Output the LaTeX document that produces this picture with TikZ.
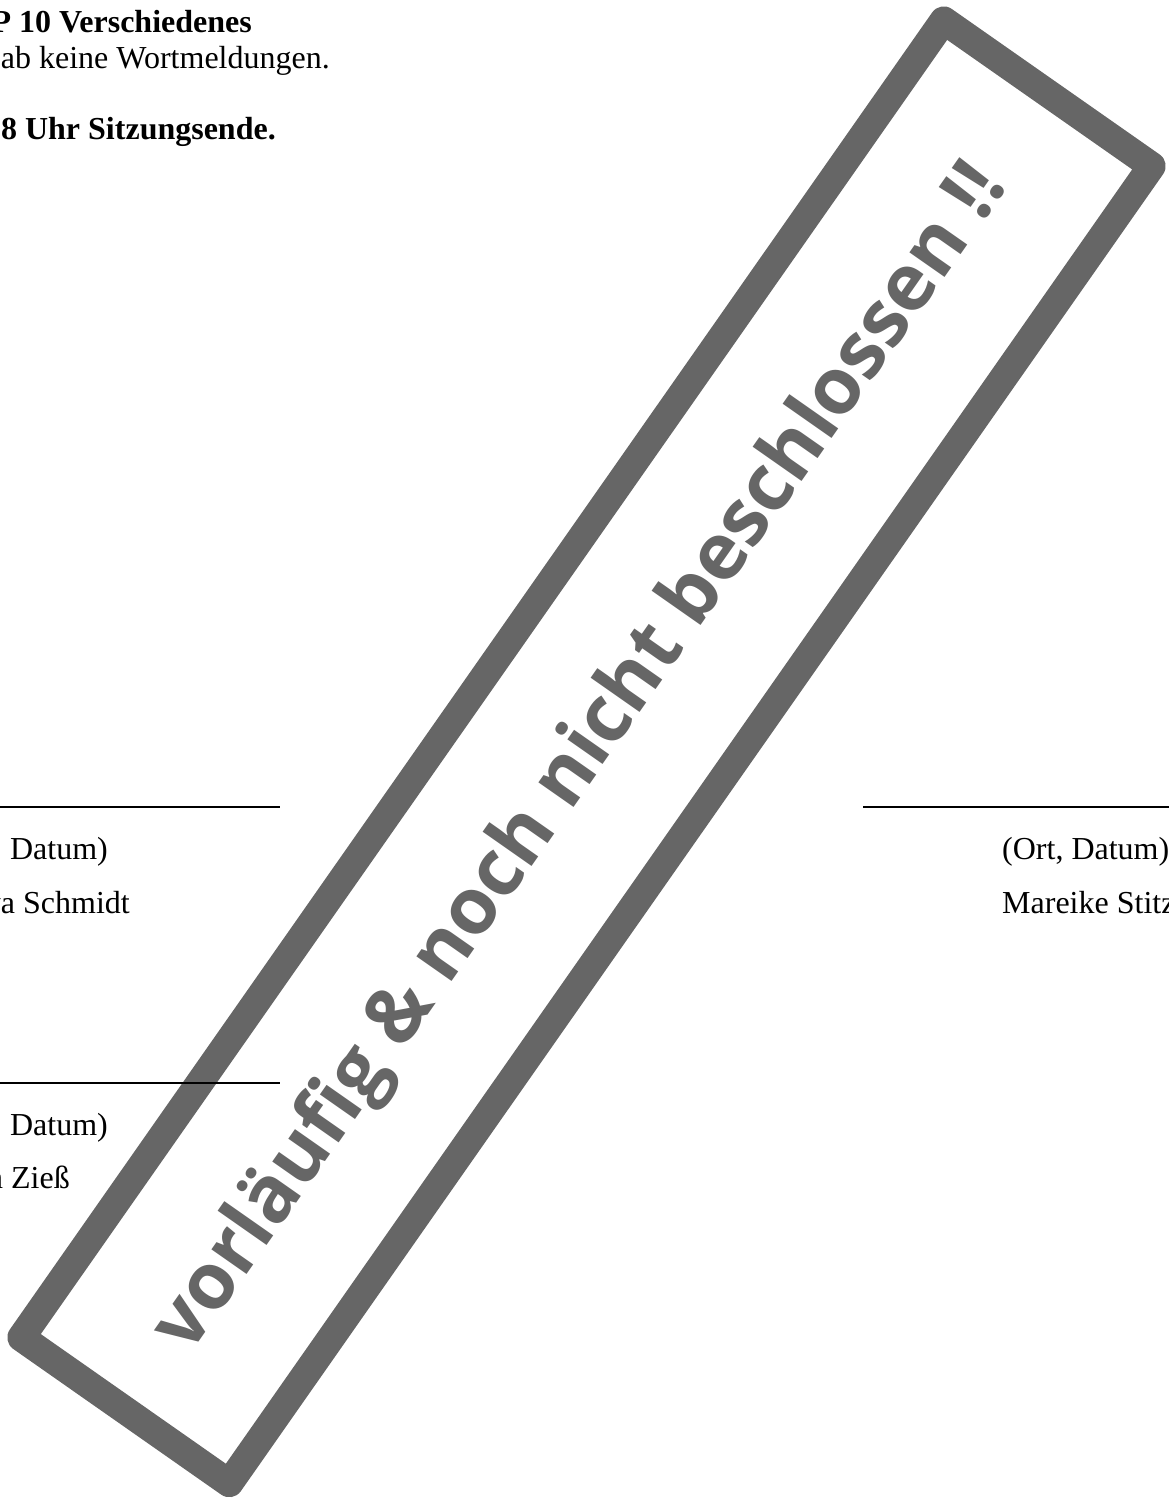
\documentclass[tikz,border=0pt]{standalone}
\usepackage{graphicx}
\usepackage{fontspec}
\setmainfont{Liberation Serif}
\newfontfamily\stampfont{Open Sans}
\definecolor{stampgray}{HTML}{666666}
\begin{document}
\begin{tikzpicture}[x=1pt,y=-1pt,
  body/.style={font=\fontsize{32}{37}\selectfont, inner sep=0pt},
  bodybold/.style={font=\fontsize{32}{37}\selectfont\bfseries, inner sep=0pt},
  sigline/.style={line width=1.5pt, draw=black},
  stampline/.style={line width=28pt, draw=stampgray, line join=round},
  stamptext/.style={text=stampgray, inner sep=0pt, rotate=55, anchor=base}
]
\useasboundingbox (0,0) rectangle (1169,1499);
\clip (0,0) rectangle (1169,1499);

% stamp frame
\coordinate (s1) at (943.7,20.4);
\coordinate (s2) at (1151.7,166.0);
\coordinate (s3) at (229.3,1483.2);
\coordinate (s4) at (21.3,1337.5);
\draw[stampline] (s1) -- (s2) -- (s3) -- (s4) -- cycle;
\node[stamptext] (stamp) at (599,771)
  {\resizebox{1427pt}{!}{\stampfont\bfseries vorläufig \& noch nicht beschlossen !!}};

% top text
\node[bodybold, anchor=base east] (t1) at (252,32) {P 10 Verschiedenes};
\node[body, anchor=base east] (t2) at (330,68) {ab keine Wortmeldungen.};
\node[bodybold, anchor=base east] (t3) at (276,139) {58 Uhr Sitzungsende.};

% signature block 1 (left)
\coordinate (l1a) at (0,807);
\coordinate (l1b) at (280,807);
\draw[sigline] (l1a) -- (l1b);
\node[body, anchor=base east] (d1) at (108,859) {, Datum)};
\node[body, anchor=base east] (n1) at (130,913) {va Schmidt};

% signature block right
\coordinate (r1a) at (863,807);
\coordinate (r1b) at (1169,807);
\draw[sigline] (r1a) -- (r1b);
\node[body, anchor=base west] (d2) at (1002,859) {(Ort, Datum)};
\node[body, anchor=base west] (n2) at (1002,913) {Mareike Stitz};

% signature block 2 (left)
\coordinate (l2a) at (0,1083);
\coordinate (l2b) at (280,1083);
\draw[sigline] (l2a) -- (l2b);
\node[body, anchor=base east] (d3) at (108,1135) {, Datum)};
\node[body, anchor=base east] (n3) at (70,1188) {n Zieß};
\end{tikzpicture}
\end{document}
